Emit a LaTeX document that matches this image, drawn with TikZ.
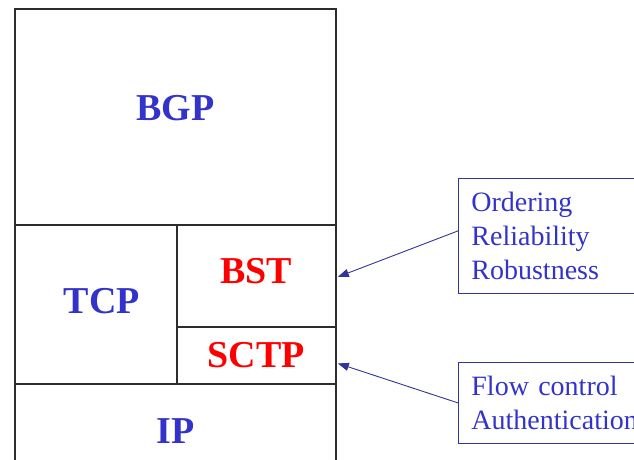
\documentclass[tikz,border=0pt]{standalone}
\usepackage{fontspec}
\setmainfont{Liberation Serif}
\usetikzlibrary{arrows.meta}
\definecolor{layerblue}{RGB}{51,51,204}
\definecolor{layerred}{RGB}{255,0,0}
\definecolor{notenavy}{RGB}{51,51,153}
\definecolor{edgegray}{RGB}{45,45,45}

\begin{document}
\begin{tikzpicture}[x=1pt,y=-1pt,line join=miter,
  layer/.style={draw=edgegray,line width=1.8pt,inner sep=0pt,anchor=north west,font=\fontsize{38}{46}\selectfont\bfseries},
  note/.style={draw=notenavy,line width=0.8pt,anchor=north west,inner xsep=13pt,inner ysep=0pt,align=left,text=layerblue,font=\fontsize{28}{34}\selectfont},
  pointer/.style={-{Triangle[length=11pt,width=8pt]},notenavy,line width=0.9pt}]
\useasboundingbox (0,0) rectangle (634,460);
\node[layer,minimum width=321pt,minimum height=216pt,text=layerblue,text depth=17pt] (bgp) at (14,8) {BGP};
\node[layer,minimum width=162pt,minimum height=159pt,text=layerblue,text depth=6pt] (tcp) at (14,224) {\hspace*{12pt}TCP};
\node[layer,minimum width=159pt,minimum height=102pt,text=layerred,text depth=10pt] (bst) at (176,224) {BST};
\node[layer,minimum width=159pt,minimum height=57pt,text=layerred] (sctp) at (176,326) {SCTP};
\node[layer,minimum width=321pt,minimum height=94pt,text=layerblue] (ip) at (14,383) {IP};
\node[note,text width=174pt,minimum height=115pt] (props) at (458,178) {Ordering\\Reliability\\Robustness};
\node[note,text width=174pt,minimum height=81pt] (extras) at (458,362) {Flow control\\Authentication};
\draw[pointer] ([yshift=5pt]props.west) -- ([xshift=1pt,yshift=-1pt]bst.east);
\draw[pointer] (extras.west) -- ([xshift=1pt,yshift=-8pt]sctp.east);
\end{tikzpicture}
\end{document}
